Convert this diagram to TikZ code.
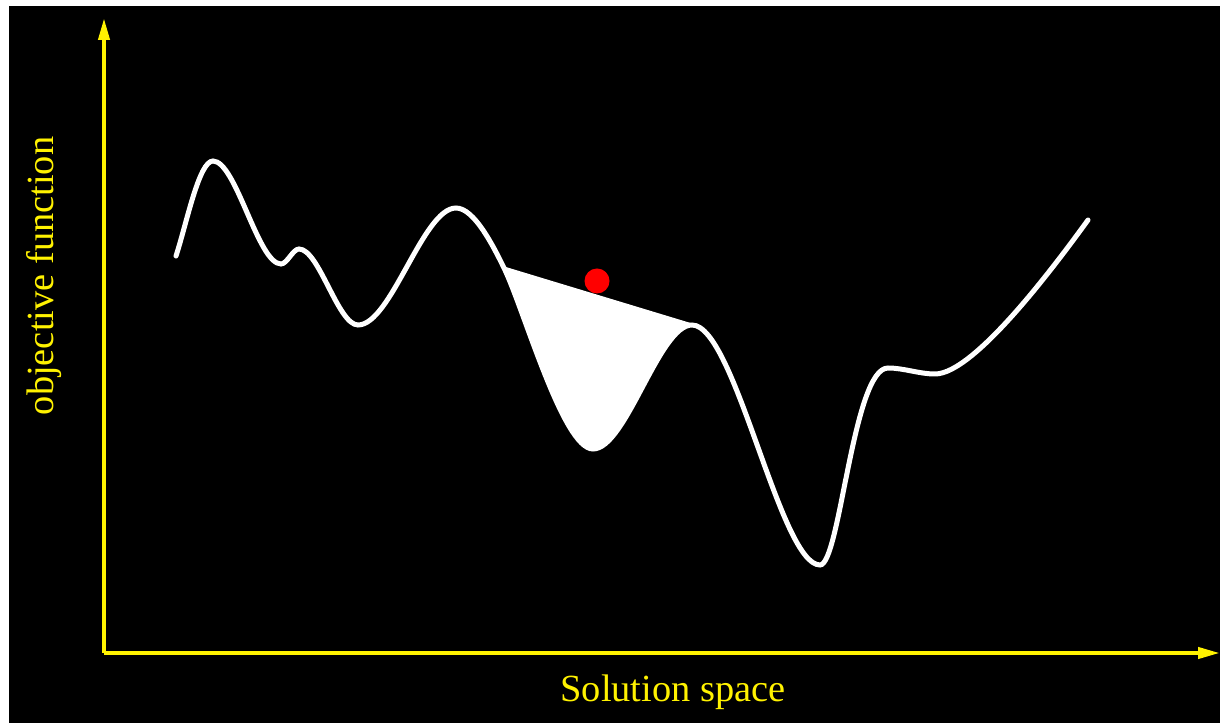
\documentclass[tikz,border=0pt]{standalone}
\usepackage{fontspec}
\setmainfont{Liberation Serif}
\usetikzlibrary{arrows.meta}
\begin{document}
\begin{tikzpicture}[x=0.5pt,y=0.5pt,
  axis/.style={yellow,line width=2pt,-{Triangle[length=11pt,width=5.5pt]}},
  landscape/.style={white,line width=2.5pt},
  label/.style={yellow,font=\fontsize{19.2}{23}\selectfont}]
\useasboundingbox (0,0) rectangle (1220,723);
\fill[white] (0,0) rectangle (1220,723);
\fill[black] (9,0) rectangle (1220,717);
\coordinate (origin) at (104,70);
\coordinate (ytip) at (104,705);
\coordinate (xtip) at (1220,70);
\draw[axis] (origin) -- (ytip);
\draw[axis] (origin) -- (xtip);
\node[label,anchor=base] (xlabel) at (673,22) {Solution space};
\node[label,anchor=base,rotate=90] (ylabel) at (54,447) {objective function};
\coordinate (A) at (504,455);
\coordinate (m3) at (593,274);
\coordinate (B) at (692,398);
\filldraw[white,line width=1.5pt] (A) .. controls +(-64:45) and +(-30,0) .. (m3)
  .. controls +(33,0) and +(-33,0) .. (B) -- cycle;
\draw[landscape,line cap=round] (176,467) .. controls +(72:35) and +(-14,0) .. (213,562)
  .. controls +(23,0) and +(-23,0) .. (281,459)
  .. controls +(6,0) and +(-6,0) .. (299,474)
  .. controls +(20,0) and +(-20,0) .. (358,398)
  .. controls +(33,0) and +(-33,0) .. (456,515)
  .. controls +(18,0) and +(116:25) .. (A)
  .. controls +(-64:45) and +(-30,0) .. (m3)
  .. controls +(33,0) and +(-33,0) .. (B)
  .. controls +(43,0) and +(-40,0) .. (820,158)
  .. controls +(20,0) and +(-35,0) .. (888,355)
  .. controls +(16,0) and +(-16,0) .. (935,349)
  .. controls +(40,0) and +(-126:50) .. (1088,503);
\fill[red] (597,442) circle (12.5);
\end{tikzpicture}
\end{document}
